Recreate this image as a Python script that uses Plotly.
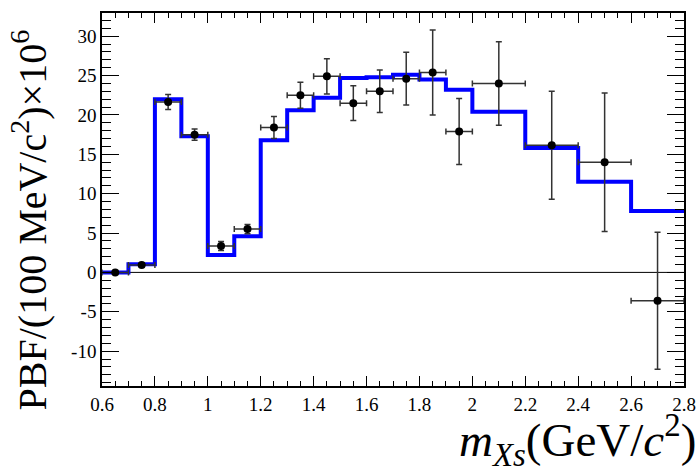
import plotly.graph_objects as go

# Fitted spectrum: bin edges (GeV/c^2) and bin contents (x10^6)
bin_edges = [0.6, 0.7, 0.8, 0.9, 1.0, 1.1, 1.2, 1.3, 1.4, 1.5, 1.6, 1.7, 1.8, 1.9,
             2.0, 2.2, 2.4, 2.6, 2.8]
fit_values = [0.0, 1.05, 22.0, 17.3, 2.2, 4.6, 16.8, 20.6, 22.2, 24.7, 24.8, 25.1,
              24.5, 23.2, 20.4, 15.8, 11.5, 7.8]

# Measured partial branching fractions
data_x = [0.65, 0.75, 0.85, 0.95, 1.05, 1.15, 1.25, 1.35, 1.45, 1.55, 1.65, 1.75,
          1.85, 1.95, 2.1, 2.3, 2.5, 2.7]
data_xerr = [0.05, 0.05, 0.05, 0.05, 0.05, 0.05, 0.05, 0.05, 0.05, 0.05, 0.05, 0.05,
             0.05, 0.05, 0.1, 0.1, 0.1, 0.1]
data_y = [0.0, 0.93, 21.65, 17.5, 3.34, 5.5, 18.4, 22.5, 24.9, 21.5, 23.0, 24.6,
          25.4, 17.9, 24.0, 16.15, 14.0, -3.6]
data_yerr = [0.1, 0.2, 0.95, 0.7, 0.57, 0.6, 1.4, 1.65, 2.25, 2.2, 2.7, 3.35,
             5.4, 4.2, 5.3, 6.85, 8.8, 8.7]

x_tickvals = [0.6, 0.8, 1.0, 1.2, 1.4, 1.6, 1.8, 2.0, 2.2, 2.4, 2.6, 2.8]
x_ticktext = ["0.6", "0.8", "1", "1.2", "1.4", "1.6", "1.8", "2", "2.2", "2.4", "2.6", "2.8"]
y_tickvals = [-10, -5, 0, 5, 10, 15, 20, 25, 30]
y_ticktext = ["-10", "-5", "0", "5", "10", "15", "20", "25", "30"]

SERIF = "Liberation Serif, Times New Roman, serif"

fig = go.Figure()

# zero reference line
fig.add_shape(type="line", xref="x", yref="y", x0=bin_edges[0], x1=bin_edges[-1],
              y0=0, y1=0, line=dict(color="black", width=1), layer="below")

fig.add_trace(go.Scatter(
    x=bin_edges, y=fit_values + [fit_values[-1]],
    mode="lines", line=dict(color="#0000ff", width=4, shape="hv"),
    hoverinfo="skip", showlegend=False,
))

fig.add_trace(go.Scatter(
    x=data_x, y=data_y, mode="markers",
    marker=dict(color="black", size=8),
    error_x=dict(type="data", array=data_xerr, color="#333333", thickness=1.5, width=3),
    error_y=dict(type="data", array=data_yerr, color="#333333", thickness=1.5, width=3),
    showlegend=False,
))

fig.update_layout(
    width=700, height=469,
    margin=dict(l=102, r=16, t=13, b=83),
    paper_bgcolor="white", plot_bgcolor="white",
    font=dict(family=SERIF, color="black"),
    xaxis=dict(
        range=[0.6, 2.8], showgrid=False, zeroline=False, automargin=False,
        showline=True, linecolor="black", linewidth=1.5, mirror="allticks",
        ticks="inside", ticklen=10, tickwidth=1.2, tickcolor="black",
        tickmode="array", tickvals=x_tickvals, ticktext=x_ticktext,
        tickfont=dict(family=SERIF, size=19, color="black"),
        minor=dict(ticks="inside", ticklen=5, tickwidth=1.2, tickcolor="black",
                   dtick=0.05, tick0=0.6, showgrid=False),
    ),
    yaxis=dict(
        range=[-14.43, 32.95], showgrid=False, zeroline=False, automargin=False,
        showline=True, linecolor="black", linewidth=1.5, mirror="allticks",
        ticks="inside", ticklen=17, tickwidth=1.2, tickcolor="black",
        tickmode="array", tickvals=y_tickvals, ticktext=y_ticktext,
        tickfont=dict(family=SERIF, size=19, color="black"),
        minor=dict(ticks="inside", ticklen=9, tickwidth=1.2, tickcolor="black",
                   dtick=1, tick0=0, showgrid=False),
    ),
)

fig.add_annotation(
    text="<i>m</i><sub><i>Xs</i></sub>(GeV/<i>c</i><sup>2</sup>)",
    xref="paper", yref="paper", x=1.024, y=-0.1446,
    xanchor="right", yanchor="middle", showarrow=False,
    font=dict(family=SERIF, size=47, color="black"),
)

fig.add_annotation(
    text="PBF/(100 MeV/c<sup>2</sup>)×10<sup>6</sup>",
    xref="paper", yref="paper", x=-0.1238, y=0.4464,
    xanchor="center", yanchor="middle", textangle=-90, showarrow=False,
    font=dict(family=SERIF, size=40, color="black"),
)

fig.write_html("out.html")
